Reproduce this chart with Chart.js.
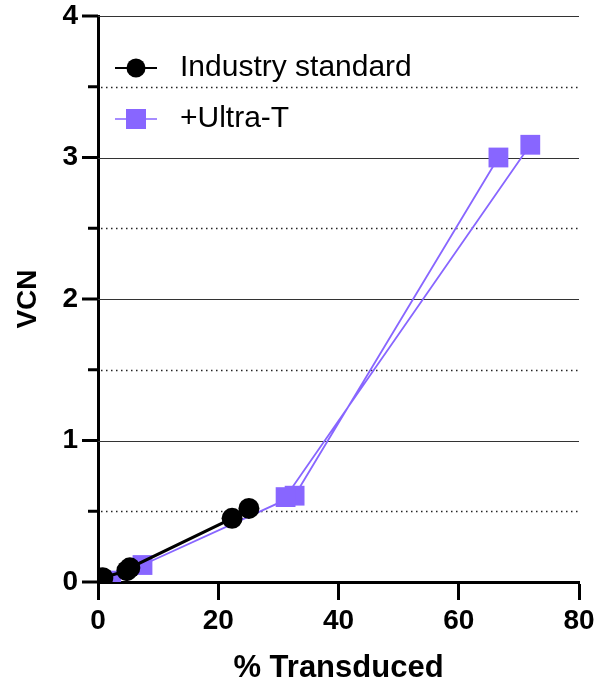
<!DOCTYPE html>
<html>
<head>
<meta charset="utf-8">
<script src="https://cdn.jsdelivr.net/npm/chart.js@4/dist/chart.umd.min.js"></script>
<style>
  html, body { margin: 0; padding: 0; background: #fff; }
  #wrap { width: 597px; height: 684px; }
</style>
</head>
<body>
<div id="wrap"><canvas id="vcnChart" width="597" height="684"></canvas></div>
<script>
// Data
const seriesNames = ['Industry standard', '+Ultra-T'];
const stdX = [0.8, 4.8, 5.3, 22.3, 25.1];
const stdY = [0.03, 0.08, 0.10, 0.45, 0.52];
// null splits the purple series into its two runs
const ultraX = [2.2, 7.4, 32.7, 66.6, null, 31.2, 71.9];
const ultraY = [0.01, 0.12, 0.61, 3.00, null, 0.60, 3.09];

const xTicks = [0, 20, 40, 60, 80];
const yMajor = [0, 1, 2, 3, 4];
const yMinor = [0.5, 1.5, 2.5, 3.5];

const BLACK = '#000000';
const PURPLE = '#8866ff';
const FONT = '"Liberation Sans", Arial, sans-serif';

function toPoints(xs, ys) {
    return xs.map((x, i) => ({ x: x, y: ys[i] }));
}

// grid lines (solid at integers, dotted at halves) + y tick marks
const gridPlugin = {
    id: 'gridLines',
    beforeDatasetsDraw(chart) {
        const { ctx, chartArea: a, scales: { y } } = chart;
        ctx.save();
        ctx.lineWidth = 1;
        ctx.strokeStyle = '#333';
        yMajor.forEach(v => {
            if (v === 0) return;
            const py = Math.round(y.getPixelForValue(v)) + 0.5;
            ctx.beginPath();
            ctx.moveTo(a.left, py);
            ctx.lineTo(a.right, py);
            ctx.stroke();
        });
        ctx.setLineDash([1.5, 3.5]);
        ctx.lineWidth = 1.5;
        ctx.strokeStyle = '#222';
        yMinor.forEach(v => {
            const py = Math.round(y.getPixelForValue(v)) + 0.5;
            ctx.beginPath();
            ctx.moveTo(a.left + 3, py);
            ctx.lineTo(a.right, py);
            ctx.stroke();
        });
        ctx.setLineDash([]);
        ctx.lineWidth = 3;
        ctx.strokeStyle = BLACK;
        yMajor.forEach(v => {
            const py = y.getPixelForValue(v);
            ctx.beginPath();
            ctx.moveTo(a.left - 16, py);
            ctx.lineTo(a.left, py);
            ctx.stroke();
        });
        yMinor.forEach(v => {
            const py = y.getPixelForValue(v);
            ctx.beginPath();
            ctx.moveTo(a.left - 10, py);
            ctx.lineTo(a.left, py);
            ctx.stroke();
        });
        ctx.restore();
    },
    afterDraw(chart) {
        // legend inside the plot, top left
        const ctx = chart.ctx;
        const rows = [68, 119];
        ctx.save();
        chart.data.datasets.forEach((ds, i) => {
            const cy = rows[i];
            ctx.strokeStyle = ds.borderColor;
            ctx.lineWidth = i === 0 ? 2 : 1.5;
            ctx.beginPath();
            ctx.moveTo(115, cy);
            ctx.lineTo(157, cy);
            ctx.stroke();
            ctx.fillStyle = ds.backgroundColor;
            if (ds.pointStyle === 'circle') {
                ctx.beginPath();
                ctx.arc(136, cy, 9.5, 0, Math.PI * 2);
                ctx.fill();
            } else {
                ctx.fillRect(126, cy - 10, 20, 20);
            }
            ctx.fillStyle = BLACK;
            ctx.font = '30px ' + FONT;
            ctx.textAlign = 'left';
            ctx.textBaseline = 'middle';
            ctx.fillText(ds.label, 180, cy);
        });
        ctx.restore();
    }
};

const ctx = document.getElementById('vcnChart').getContext('2d');
new Chart(ctx, {
    type: 'scatter',
    data: {
        datasets: [
            {
                label: seriesNames[0],
                data: toPoints(stdX, stdY),
                showLine: true,
                borderColor: BLACK,
                backgroundColor: BLACK,
                borderWidth: 3,
                pointStyle: 'circle',
                pointRadius: 10.5,
                pointBorderWidth: 0,
                tension: 0,
                clip: { left: 0, bottom: 0, top: false, right: false }
            },
            {
                label: seriesNames[1],
                data: toPoints(ultraX, ultraY),
                showLine: true,
                spanGaps: false,
                borderColor: PURPLE,
                backgroundColor: PURPLE,
                borderWidth: 1.8,
                pointStyle: 'rect',
                pointRadius: 14,
                pointBorderWidth: 0,
                tension: 0,
                clip: { left: 0, bottom: 0, top: false, right: false }
            }
        ]
    },
    options: {
        responsive: false,
        animation: false,
        layout: { padding: { top: 16, right: 18, left: 0, bottom: 0 } },
        plugins: {
            legend: { display: false },
            tooltip: { enabled: false }
        },
        scales: {
            x: {
                type: 'linear',
                min: 0,
                max: 80,
                afterBuildTicks: s => { s.ticks = xTicks.map(v => ({ value: v })); },
                afterFit: s => {
                    s.height = 102;
                    s.paddingLeft = 0;
                    s.paddingRight = 0;
                },
                grid: {
                    drawOnChartArea: false,
                    drawTicks: true,
                    tickLength: 18,
                    tickWidth: 3,
                    tickColor: BLACK
                },
                border: { display: true, color: BLACK, width: 3 },
                ticks: {
                    color: BLACK,
                    padding: 4,
                    font: { family: FONT, size: 28, weight: 'bold' }
                },
                title: {
                    display: true,
                    text: '% Transduced',
                    color: BLACK,
                    padding: { top: 0, bottom: 0 },
                    font: { family: FONT, size: 31, weight: 'bold', lineHeight: 1 }
                }
            },
            y: {
                type: 'linear',
                min: 0,
                max: 4,
                afterBuildTicks: s => { s.ticks = yMajor.map(v => ({ value: v })); },
                afterFit: s => {
                    s.width = 98;
                    s.paddingTop = 0;
                    s.paddingBottom = 0;
                },
                grid: {
                    drawOnChartArea: false,
                    drawTicks: false
                },
                border: { display: true, color: BLACK, width: 3 },
                ticks: {
                    color: BLACK,
                    padding: 20,
                    font: { family: FONT, size: 28, weight: 'bold' }
                },
                title: {
                    display: true,
                    text: 'VCN',
                    color: BLACK,
                    padding: { top: 11, bottom: 0 },
                    font: { family: FONT, size: 28, weight: 'bold' }
                }
            }
        }
    },
    plugins: [gridPlugin]
});
</script>
</body>
</html>
